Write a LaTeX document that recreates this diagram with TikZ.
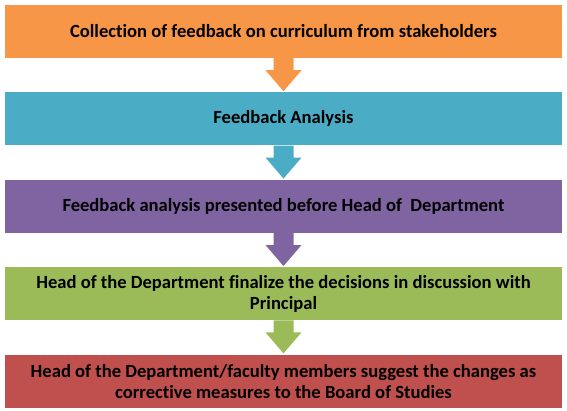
\documentclass[tikz,border=0pt]{standalone}
\usepackage{fontspec}
\setmainfont{Carlito}[Ligatures=NoCommon]
\usetikzlibrary{positioning,calc}
\definecolor{boxorange}{HTML}{F79646}
\definecolor{boxteal}{HTML}{4BACC6}
\definecolor{boxpurple}{HTML}{8064A2}
\definecolor{boxgreen}{HTML}{9BBB59}
\definecolor{boxred}{HTML}{C0504D}
\tikzset{
	stepbox/.style={minimum width=557pt, minimum height=53pt, inner sep=0pt,
		align=center, font=\fontsize{18.6}{21}\selectfont\bfseries, text=black}
}
\begin{document}
\begin{tikzpicture}[x=1pt, y=-1pt]
\useasboundingbox (0,0) rectangle (567,410);
\node[stepbox, fill=boxorange] (collect) at (283.5,31.5) {Collection of feedback on curriculum from stakeholders};
\node[stepbox, fill=boxteal, below=34pt of collect] (analysis) {Feedback Analysis};
\node[stepbox, fill=boxpurple, below=34pt of analysis] (present) {Feedback analysis presented before Head of \ Department};
\node[stepbox, fill=boxgreen, below=34pt of present] (finalize) {Head of the Department finalize the decisions in discussion with\\ Principal};
\node[stepbox, fill=boxred, below=34pt of finalize] (suggest) {Head of the Department/faculty members suggest the changes as\\ corrective measures to the Board of Studies};
% block arrows between the steps
\foreach \a/\b/\c in {collect/analysis/boxorange, analysis/present/boxteal,
	present/finalize/boxpurple, finalize/suggest/boxgreen}
	\fill[\c] ($(\a.south)+(-10,0)$) -- ++(0,12) -- ++(-8,0) -- ($(\b.north)+(0,-1)$)
		-- ($(\a.south)+(18,12)$) -- ++(-8,0) -- ($(\a.south)+(10,0)$) -- cycle;
\end{tikzpicture}
\end{document}
